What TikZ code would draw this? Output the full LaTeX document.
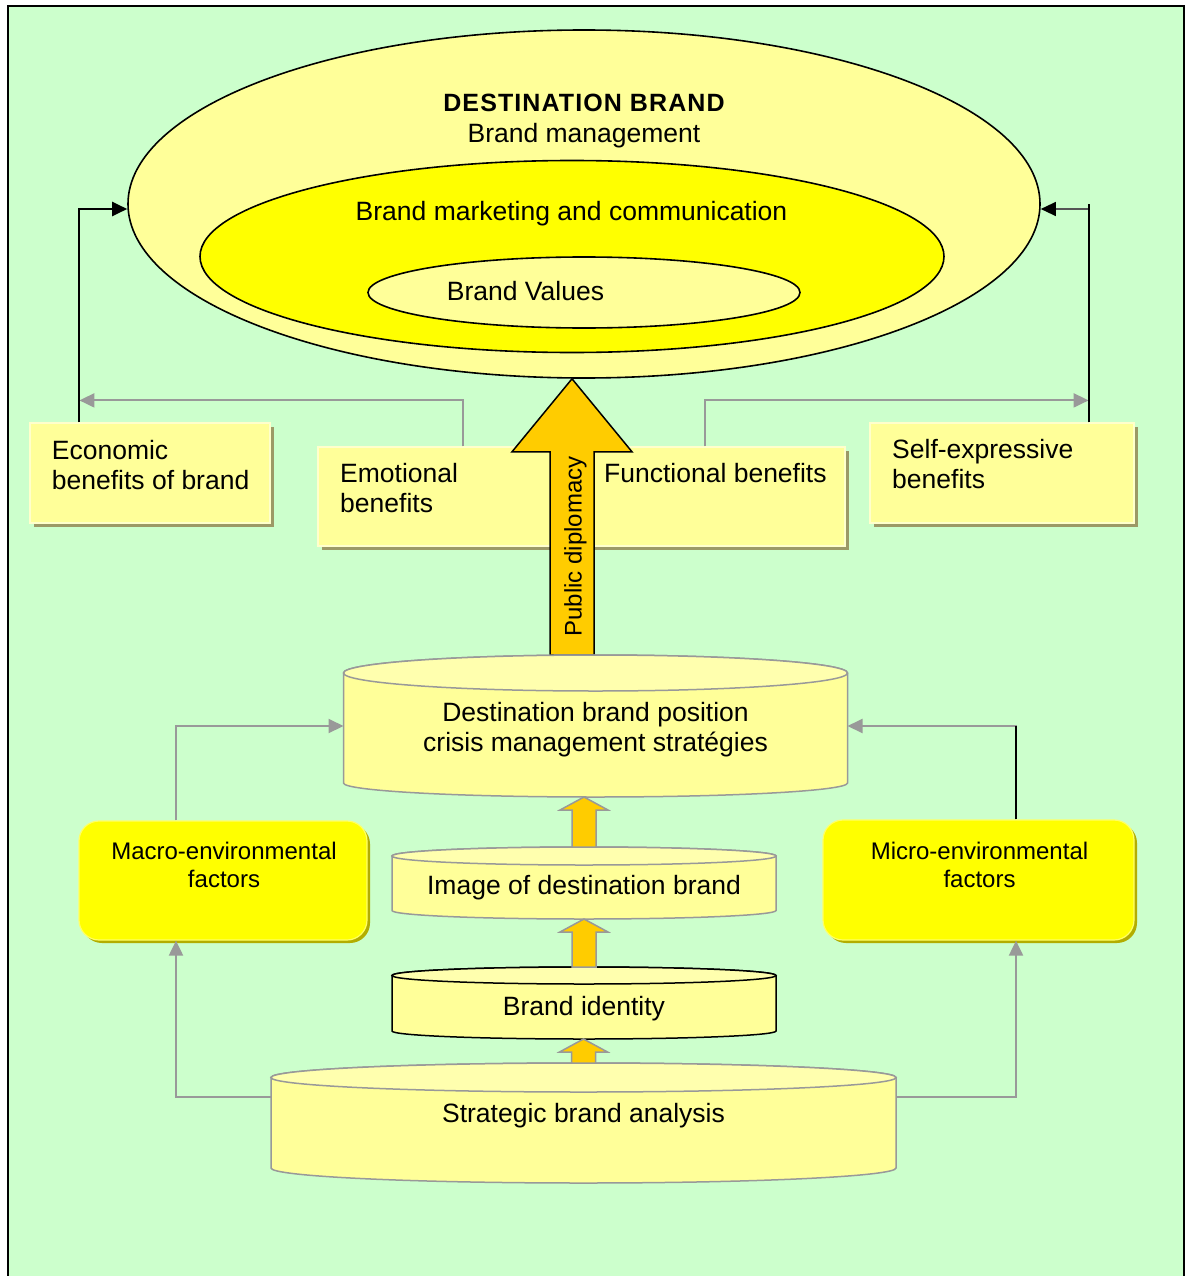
\documentclass[tikz,border=0pt]{standalone}
\usepackage{fontspec}
\setmainfont{Liberation Sans}
\usetikzlibrary{shapes.geometric,arrows.meta,shadows,calc}

\definecolor{bg}{HTML}{CCFFCC}
\definecolor{paleyellow}{HTML}{FFFF99}
\definecolor{paletop}{HTML}{FFFFAE}
\definecolor{brightyellow}{HTML}{FFFF00}
\definecolor{amber}{HTML}{FFCC00}
\definecolor{linegray}{HTML}{999999}
\definecolor{darkline}{HTML}{555555}
\definecolor{boxshade}{HTML}{9C9966}
\definecolor{factorshade}{HTML}{B3AD00}
\definecolor{boxedge}{HTML}{FFFFCC}
\definecolor{factoredge}{HTML}{FFFF66}

% drum (cylinder) drawn over an invisible rectangle node:
% #1 node, #2 top radius, #3 bottom radius, #4 stroke colour
\newcommand\drumshape[4]{%
  \path[draw=#4, fill=paleyellow, line width=1.5pt]
    let \p1=(#1.north west), \p2=(#1.south east), \n1={(\x2-\x1)/2} in
    (\x1,\y1-#2) -- (\x1,\y2+#3)
    arc[start angle=180, end angle=360, x radius=\n1, y radius=#3]
    -- (\x2,\y1-#2)
    arc[start angle=0, end angle=180, x radius=\n1, y radius=#2] -- cycle;
  \path[draw=#4, fill=paletop, line width=1.5pt]
    let \p1=(#1.north west), \p2=(#1.south east), \n1={(\x2-\x1)/2} in
    ({(\x1+\x2)/2},\y1-#2) ellipse[x radius=\n1, y radius=#2];
}

% small block arrow from the top of drum #1 to the bottom of drum #2
\newcommand\stepblock[2]{%
  \path[draw=linegray, fill=amber, line width=1.5pt]
    let \p1=(#1.north), \p2=(#2.south) in
    (\x1-12pt,\y1) -- (\x1-12pt,\y2-13pt) -- (\x1-24pt,\y2-13pt) -- (\x1,\y2)
    -- (\x1+24pt,\y2-13pt) -- (\x1+12pt,\y2-13pt) -- (\x1+12pt,\y1) -- cycle;
}

\begin{document}
\begin{tikzpicture}[x=1pt,y=1pt,
  lbl/.style={inner sep=0pt, font=\fontsize{26.5}{30.5}\selectfont},
  smalllbl/.style={inner sep=0pt, font=\fontsize{24}{28}\selectfont},
  benefit/.style={rectangle, fill=paleyellow, draw=boxedge, line width=1.2pt,
    inner sep=0pt,
    drop shadow={shadow xshift=4pt, shadow yshift=-4pt, fill=boxshade, opacity=1}},
  factor/.style={rectangle, rounded corners=20pt, fill=brightyellow,
    draw=factoredge, line width=1.2pt, inner sep=0pt,
    drop shadow={shadow xshift=3pt, shadow yshift=-3pt, fill=factorshade, opacity=1}},
  ring/.style={ellipse, draw=black, line width=1.6pt, inner sep=0pt},
  anchorbox/.style={rectangle, inner sep=0pt, outer sep=0pt},
  blackarrow/.style={draw=black, line width=2pt, -{Triangle[length=15pt,width=14pt]}},
  grayarrow/.style={draw=linegray, line width=2pt, -{Triangle[length=15pt,width=14pt]}},
]
\useasboundingbox (0,0) rectangle (1186,-1276);
\draw[line width=2.5pt, fill=bg] (8,-6) rectangle (1184,-1300);

% places of the drums
\node[anchorbox, minimum width=504pt, minimum height=142pt] (c1) at (595.5,-726) {};
\node[anchorbox, minimum width=384pt, minimum height=72pt] (c2) at (584,-883) {};
\node[anchorbox, minimum width=384pt, minimum height=72pt] (c3) at (584,-1003) {};
\node[anchorbox, minimum width=625pt, minimum height=120pt] (c4) at (583.5,-1123) {};

% destination brand rings
\node[ring, fill=paleyellow, minimum width=912pt, minimum height=348pt] (outer) at (584,-204) {};
\node[ring, fill=brightyellow, minimum width=744pt, minimum height=192pt] (mid) at (572,-256.5) {};
\node[ring, fill=paleyellow, minimum width=432pt, minimum height=71pt] (core) at (584,-292.5) {};

\node[lbl, anchor=base, font=\bfseries\fontsize{25}{29}\selectfont\addfontfeature{LetterSpace=4.4}] (title) at (584,-112) {DESTINATION BRAND};
\node[lbl, anchor=base] (mgmt) at (584,-143) {Brand management};
\node[lbl, anchor=base] (mkt) at (571.5,-220) {Brand marketing and communication};
\node[lbl, anchor=base] (values) at (525.5,-300) {Brand Values};

% benefit boxes
\node[benefit, minimum width=240pt, minimum height=100pt] (econ) at (150,-473) {};
\node[benefit, minimum width=272pt, minimum height=99pt] (emot) at (454,-496.5) {};
\node[benefit, minimum width=285pt, minimum height=99pt] (func) at (702.5,-496.5) {};
\node[benefit, minimum width=264pt, minimum height=100pt] (self) at (1002,-473) {};

\node[lbl, anchor=north west, align=left] (econtxt) at (51.7,-437.6) {\strut Economic\\benefits of brand};
\node[lbl, anchor=north west, align=left] (emottxt) at (340,-460.6) {\strut Emotional\\benefits};
\node[lbl, anchor=north west, align=left] (functxt) at (604,-460.6) {\strut Functional benefits};
\node[lbl, anchor=north west, align=left] (selftxt) at (892,-436.6) {\strut Self-expressive\\benefits};

% feedback connectors towards the brand
\coordinate (etop) at ([xshift=50pt]econ.north west);
\coordinate (emtop) at ([xshift=146pt]emot.north west);
\coordinate (futop) at ([xshift=-140.5pt]func.north east);
\coordinate (setop) at ([xshift=-46pt]self.north east);
\coordinate (ejoin) at ([yshift=22pt]etop);
\coordinate (sjoin) at ([yshift=22pt]setop);

\draw[grayarrow] (emtop) |- (ejoin);
\draw[grayarrow] (futop) |- (sjoin);
\draw[blackarrow] (etop) |- ([yshift=-5pt]outer.west);
\draw[draw=darkline, line width=1.2pt, -{Triangle[length=15pt,width=14pt,black]}]
  (setop) |- ([yshift=-5pt]outer.east);
\draw[line width=2pt] (setop) -- (setop |- outer.east);

% public diplomacy arrow
\path[draw=black, fill=amber, line width=1.5pt]
  let \p1=(mid.south |- c1.north), \p2=(mid.south |- outer.south) in
  (\x1-22pt,\y1) -- (\x1-22pt,\y2-73pt) -- (\x1-60pt,\y2-73pt) -- (\x2,\y2)
  -- (\x1+60pt,\y2-73pt) -- (\x1+22pt,\y2-73pt) -- (\x1+22pt,\y1) -- cycle;
\node[smalllbl, rotate=90, anchor=base] (dipl) at (581.5,-546.5) {Public diplomacy};

% drums
\drumshape{c1}{18pt}{14pt}{linegray}
\drumshape{c2}{9pt}{8.5pt}{linegray}
\drumshape{c3}{8.5pt}{8pt}{black}
\drumshape{c4}{14.5pt}{15pt}{linegray}

\node[lbl, anchor=north, align=center] (c1txt) at (595.5,-699.6) {\strut Destination brand position\\crisis management stratégies};
\node[lbl, anchor=base] (c2txt) at (584,-894) {Image of destination brand};
\node[lbl, anchor=base] (c3txt) at (584,-1015) {Brand identity};
\node[lbl, anchor=base] (c4txt) at (583.5,-1122) {Strategic brand analysis};

\stepblock{c2}{c1}
\stepblock{c3}{c2}
\stepblock{c4}{c3}

% environmental factors
\node[factor, minimum width=288pt, minimum height=119pt] (macro) at (223,-880.5) {};
\node[factor, minimum width=311pt, minimum height=120pt] (micro) at (978.5,-880) {};
\node[smalllbl, anchor=north, align=center] (macrotxt) at (224,-839.4) {\strut Macro-environmental\\factors};
\node[smalllbl, anchor=north, align=center] (microtxt) at (979.5,-839.4) {\strut Micro-environmental\\factors};

\coordinate (mtopL) at ([xshift=-47pt]macro.north);
\coordinate (mbotL) at ([xshift=-47pt]macro.south);
\coordinate (mtopR) at ([xshift=37.5pt]micro.north);
\coordinate (mbotR) at ([xshift=37.5pt]micro.south);

\draw[grayarrow] (mtopL) |- (c1.west);
\draw[grayarrow] (mtopR) |- (c1.east);
\draw[line width=2pt] (mtopR) -- (mtopR |- c1.east);
\draw[grayarrow] ([yshift=26pt]c4.west) -| (mbotL);
\draw[grayarrow] ([yshift=26pt]c4.east) -| (mbotR);
\end{tikzpicture}
\end{document}
